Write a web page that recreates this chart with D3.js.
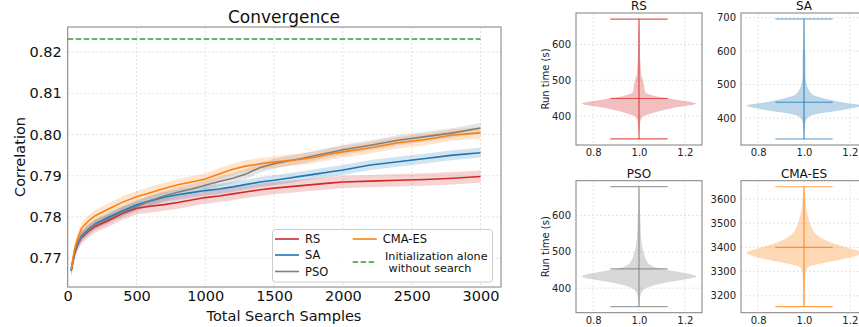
<!DOCTYPE html>
<html><head><meta charset="utf-8">
<script src="https://cdn.jsdelivr.net/npm/d3@7"></script>
<style>body{margin:0;background:#fff} svg{display:block;font-family:"DejaVu Sans",sans-serif}</style>
</head><body><svg id="c" width="859" height="327"></svg>
<script>
// ---------- Convergence data ----------
const samples = [25,50,75,100,150,200,300,400,500,600,700,800,900,1000,1100,1200,1300,1400,1500,1600,1700,1800,1900,2000,2200,2400,2600,2800,3000];
const rsMean  = [.7670,.7712,.7735,.7750,.7765,.7777,.7792,.7809,.7821,.7826,.7830,.7835,.7841,.7847,.7851,.7856,.7861,.7866,.7870,.7873,.7876,.7879,.7882,.7885,.7887,.7889,.7891,.7894,.7898];
const saMean  = [.7670,.7713,.7737,.7754,.7770,.7783,.7800,.7815,.7829,.7839,.7848,.7854,.7859,.7864,.7868,.7873,.7879,.7885,.7889,.7894,.7899,.7904,.7909,.7914,.7926,.7934,.7942,.7950,.7956];
const psoMean = [.7670,.7713,.7736,.7752,.7768,.7781,.7796,.7812,.7825,.7840,.7851,.7860,.7868,.7877,.7886,.7894,.7905,.7920,.7929,.7936,.7942,.7949,.7956,.7963,.7974,.7986,.7995,.8004,.8016];
const cmaMean = [.7672,.7722,.7750,.7772,.7790,.7803,.7820,.7836,.7849,.7859,.7869,.7878,.7885,.7892,.7904,.7916,.7924,.7929,.7933,.7937,.7940,.7945,.7952,.7958,.7968,.7980,.7988,.7999,.8004];
const rsBand = 0.0015, saBand = 0.0012, psoBand = 0.0012, cmaBand = 0.0014;
const initLevel = 0.8232;
const xTicks = [0,500,1000,1500,2000,2500,3000];
const yTicks = [0.77,0.78,0.79,0.80,0.81,0.82];
const seriesNames = ["RS","SA","PSO","CMA-ES"];
const seriesColors = ["#d62728","#1f77b4","#7f7f7f","#ff7f0e"];

// ---------- Run-time violin data (profile: run time, half width) ----------
const rsRT   = [336,367,385,399,405,413,422,435,445,454,461,468,487,501,515,542,589,635,671];
const rsW    = [0,.003,.006,.017,.043,.086,.144,.25,.17,.086,.043,.026,.022,.017,.010,.007,.004,.003,0];
const rsStats = [336,449,671];
const saRT   = [337,369,389,404,414,424,437,448,459,468,483,498,518,558,588,607,657,696];
const saW    = [0,.003,.007,.022,.072,.17,.25,.158,.086,.043,.022,.012,.007,.006,.006,.003,.0015,0];
const saStats = [337,447,696];
const psoRT  = [349,368,382,391,400,409,418,432,445,455,464,477,496,514,532,569,614,660,679];
const psoW   = [0,.004,.007,.014,.029,.072,.144,.25,.17,.086,.05,.032,.022,.014,.010,.007,.004,.0015,0];
const psoStats = [349,453,679];
const cmaRT  = [3155,3183,3238,3293,3314,3327,3341,3355,3378,3400,3416,3437,3458,3485,3512,3540,3581,3622,3651];
const cmaW   = [0,.003,.004,.007,.014,.043,.115,.187,.25,.187,.13,.079,.05,.032,.022,.014,.007,.004,0];
const cmaStats = [3155,3400,3651];
const vxTicks = [0.8,1.0,1.2];

const svg = d3.select("#c");
const gridColor = "#d9d9d9", spineColor = "#7f7f7f";

// ---------- Main chart ----------
const x = d3.scaleLinear().domain([0,3149]).range([67.7,501]);
const y = d3.scaleLinear().domain([0.7630,0.8261]).range([287,27]);
const main = svg.append("g");
main.append("g").selectAll("line").data(xTicks).join("line")
  .attr("x1",d=>x(d)).attr("x2",d=>x(d)).attr("y1",27).attr("y2",287)
  .attr("stroke",gridColor).attr("stroke-dasharray","2,2").attr("stroke-width",0.8);
main.append("g").selectAll("line").data(yTicks).join("line")
  .attr("y1",d=>y(d)).attr("y2",d=>y(d)).attr("x1",67.7).attr("x2",501)
  .attr("stroke",gridColor).attr("stroke-dasharray","2,2").attr("stroke-width",0.8);

const means = [rsMean, saMean, psoMean, cmaMean];
const bands = [rsBand, saBand, psoBand, cmaBand];
means.forEach((m,i)=>{
  const pts = samples.map((s,j)=>({s, v:m[j]}));
  main.append("path").datum(pts)
    .attr("d", d3.area().x(d=>x(d.s)).y0(d=>y(d.v-bands[i])).y1(d=>y(d.v+bands[i])))
    .attr("fill", seriesColors[i]).attr("fill-opacity",0.2);
});
means.forEach((m,i)=>{
  const pts = samples.map((s,j)=>({s, v:m[j]}));
  main.append("path").datum(pts)
    .attr("d", d3.line().x(d=>x(d.s)).y(d=>y(d.v)))
    .attr("fill","none").attr("stroke", seriesColors[i]).attr("stroke-width",1.6);
});
main.append("line").attr("x1",x(0)).attr("x2",x(3000)).attr("y1",y(initLevel)).attr("y2",y(initLevel))
  .attr("stroke","#2ca02c").attr("stroke-width",1.6).attr("stroke-dasharray","5.5,2.5");

main.append("rect").attr("x",67.7).attr("y",27).attr("width",501-67.7).attr("height",260)
  .attr("fill","none").attr("stroke",spineColor).attr("stroke-width",1);

const xa = main.append("g").attr("transform","translate(0,287)")
  .call(d3.axisBottom(x).tickValues(xTicks).tickSize(0).tickPadding(4).tickFormat(d3.format("d")));
const ya = main.append("g").attr("transform","translate(67.7,0)")
  .call(d3.axisLeft(y).tickValues(yTicks).tickSize(0).tickPadding(6).tickFormat(d3.format(".2f")));
[xa,ya].forEach(a=>{a.select(".domain").remove(); a.selectAll("text").attr("font-size",14.5).attr("fill","#111").attr("font-family","DejaVu Sans");});

main.append("text").attr("x",284).attr("y",22.5).attr("text-anchor","middle").attr("font-size",17).attr("fill","#111").text("Convergence");
main.append("text").attr("x",284).attr("y",321).attr("text-anchor","middle").attr("font-size",14.5).attr("fill","#111").text("Total Search Samples");
main.append("text").attr("transform","translate(25,157) rotate(-90)").attr("text-anchor","middle").attr("font-size",14.5).attr("fill","#111").text("Correlation");

// legend
const lg = main.append("g");
lg.append("rect").attr("x",272.5).attr("y",229.5).attr("width",220).attr("height",52.5).attr("rx",3)
  .attr("fill","#fff").attr("fill-opacity",0.85).attr("stroke","#cccccc");
const legRows = [[0,275,239],[1,275,255],[2,275,271.5],[3,352.7,239]];
legRows.forEach(([i,lx,ly])=>{
  lg.append("line").attr("x1",lx).attr("x2",lx+24).attr("y1",ly).attr("y2",ly).attr("stroke",seriesColors[i]).attr("stroke-width",1.6);
  lg.append("text").attr("x",lx+30).attr("y",ly+4).attr("font-size",11.5).attr("fill","#111").text(seriesNames[i]);
});
lg.append("line").attr("x1",352.7).attr("x2",376.7).attr("y1",262).attr("y2",262).attr("stroke","#2ca02c").attr("stroke-width",1.6).attr("stroke-dasharray","5.5,2.5");
lg.append("text").attr("x",385).attr("y",259.5).attr("font-size",11.2).attr("fill","#111").text("Initialization alone");
lg.append("text").attr("x",385).attr("y",272).attr("font-size",11.2).attr("fill","#111").attr("xml:space","preserve").text(" without search");

// ---------- Violin panels ----------
const panels = [
  {name:"RS", rt:rsRT, w:rsW, st:rsStats, color:seriesColors[0], x0:576, y0:13, yd:[319,688], ticks:[400,500,600], ylab:true},
  {name:"SA", rt:saRT, w:saW, st:saStats, color:seriesColors[1], x0:741, y0:13, yd:[319,714], ticks:[400,500,600,700], ylab:false},
  {name:"PSO", rt:psoRT, w:psoW, st:psoStats, color:seriesColors[2], x0:576, y0:180.7, yd:[332.5,695.5], ticks:[400,500,600], ylab:true},
  {name:"CMA-ES", rt:cmaRT, w:cmaW, st:cmaStats, color:seriesColors[3], x0:741, y0:180.7, yd:[3130,3676], ticks:[3200,3300,3400,3500,3600], ylab:false}
];
panels.forEach(p=>{
  const g = svg.append("g");
  const W = 126, H = 132;
  const vx = d3.scaleLinear().domain([0.725,1.275]).range([p.x0,p.x0+W]);
  const vy = d3.scaleLinear().domain(p.yd).range([p.y0+H,p.y0]);
  g.append("g").selectAll("line").data(vxTicks).join("line")
    .attr("x1",d=>vx(d)).attr("x2",d=>vx(d)).attr("y1",p.y0).attr("y2",p.y0+H)
    .attr("stroke",gridColor).attr("stroke-dasharray","2,2").attr("stroke-width",0.7);
  g.append("g").selectAll("line").data(p.ticks).join("line")
    .attr("y1",d=>vy(d)).attr("y2",d=>vy(d)).attr("x1",p.x0).attr("x2",p.x0+W)
    .attr("stroke",gridColor).attr("stroke-dasharray","2,2").attr("stroke-width",0.7);
  const prof = p.rt.map((r,i)=>({r, w:p.w[i]}));
  g.append("path").datum(prof)
    .attr("d", d3.area().curve(d3.curveMonotoneY).y(d=>vy(d.r)).x0(d=>vx(1-d.w)).x1(d=>vx(1+d.w)))
    .attr("fill",p.color).attr("fill-opacity",0.3);
  const lc = p.color;
  g.append("line").attr("x1",vx(1)).attr("x2",vx(1)).attr("y1",vy(p.st[0])).attr("y2",vy(p.st[2])).attr("stroke",lc).attr("stroke-opacity",0.75).attr("stroke-width",1.2);
  p.st.forEach(v=>{
    g.append("line").attr("x1",vx(0.875)).attr("x2",vx(1.125)).attr("y1",vy(v)).attr("y2",vy(v)).attr("stroke",lc).attr("stroke-opacity",0.75).attr("stroke-width",1.2);
  });
  g.append("rect").attr("x",p.x0).attr("y",p.y0).attr("width",W).attr("height",H).attr("fill","none").attr("stroke",spineColor).attr("stroke-width",1);
  const ax = g.append("g").attr("transform",`translate(0,${p.y0+H})`)
    .call(d3.axisBottom(vx).tickValues(vxTicks).tickSize(0).tickPadding(4).tickFormat(d3.format(".1f")));
  const ay = g.append("g").attr("transform",`translate(${p.x0},0)`)
    .call(d3.axisLeft(vy).tickValues(p.ticks).tickSize(0).tickPadding(5).tickFormat(d3.format("d")));
  [ax,ay].forEach(a=>{a.select(".domain").remove(); a.selectAll("text").attr("font-size",10).attr("fill","#222").attr("font-family","DejaVu Sans");});
  g.append("text").attr("x",p.x0+W/2).attr("y",p.y0-3).attr("text-anchor","middle").attr("font-size",12).attr("fill","#111").text(p.name);
  if(p.ylab) g.append("text").attr("transform",`translate(549,${p.y0+H/2}) rotate(-90)`).attr("text-anchor","middle").attr("font-size",10).attr("fill","#222").text("Run time (s)");
});
</script></body></html>
